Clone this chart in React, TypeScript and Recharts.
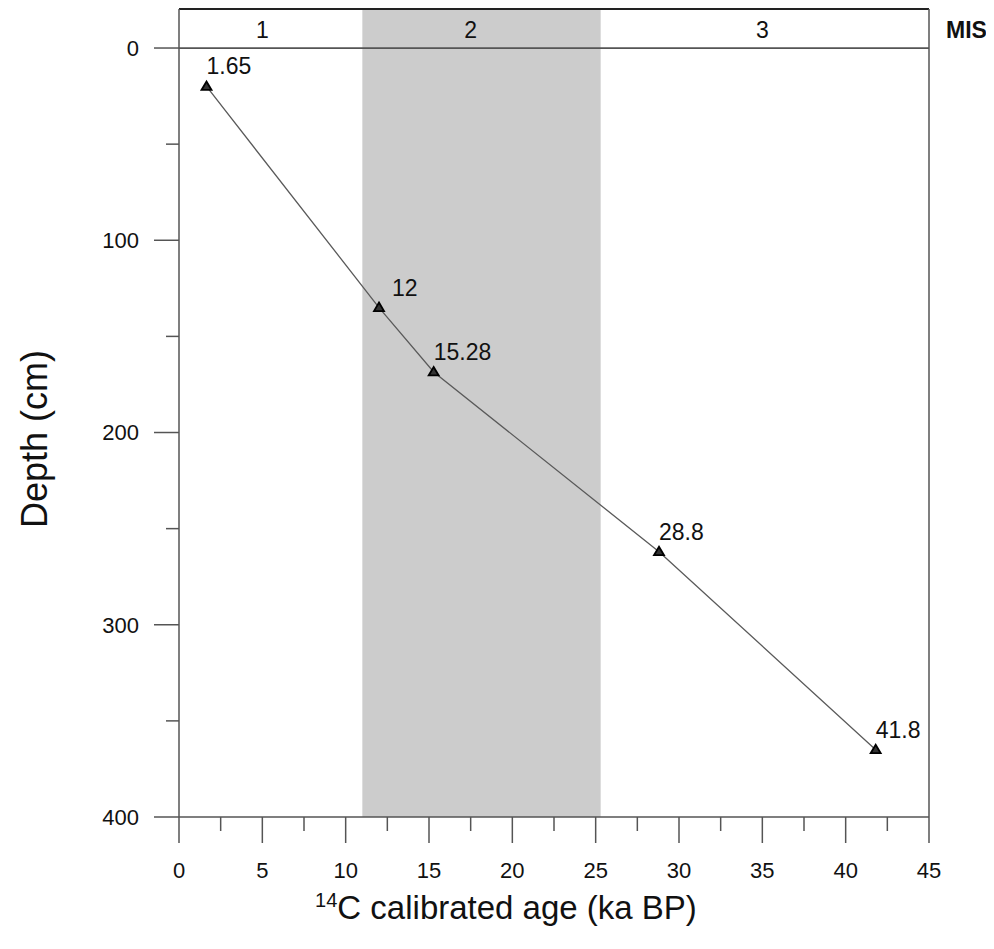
import React from "react";
import {
  LineChart,
  Line,
  XAxis,
  YAxis,
  ReferenceArea,
  ReferenceLine,
  ReferenceDot,
} from "recharts";

// radiocarbon dates (ka BP) against core depth (cm)
const ages = [1.65, 12, 15.28, 28.8, 41.8];
const depths = [20, 135, 168.5, 262, 365];
const ageLabels = ["1.65", "12", "15.28", "28.8", "41.8"];

const xTicks = [0, 2.5, 5, 7.5, 10, 12.5, 15, 17.5, 20, 22.5, 25, 27.5, 30, 32.5, 35, 37.5, 40, 42.5, 45];
const yTicks = [0, 50, 100, 150, 200, 250, 300, 350, 400];

// marine isotope stages
const misNames = ["1", "2", "3"];
const misLabelAt = [5, 17.5, 35];
const mis2Start = 11;
const mis2End = 25.3;

const data = ages.map((a, i) => ({ age: a, depth: depths[i], label: ageLabels[i] }));

const FONT = "'Liberation Sans', Arial, sans-serif";
const AXIS = "#555";
const Y_TOP = -20.3;
const MIS_Y = -9.7;

const XTick = (props: any) => {
  const { x, y, payload } = props;
  const major = payload.value % 5 === 0;
  return (
    <g>
      <line x1={x} y1={y} x2={x} y2={y + (major ? 26 : 14)} stroke={AXIS} strokeWidth={1.5} />
      {major && (
        <text x={x} y={y + 61} textAnchor="middle" fontSize={22} fontFamily={FONT} fill="#111">
          {payload.value}
        </text>
      )}
    </g>
  );
};

const YTick = (props: any) => {
  const { x, y, payload } = props;
  const major = payload.value % 100 === 0;
  return (
    <g>
      <line x1={x - (major ? 25 : 13)} y1={y} x2={x} y2={y} stroke={AXIS} strokeWidth={1.5} />
      {major && (
        <text x={x - 40} y={y} dy="0.36em" textAnchor="end" fontSize={22} fontFamily={FONT} fill="#111">
          {payload.value}
        </text>
      )}
    </g>
  );
};

const XTitle = (props: any) => {
  const vb = props.viewBox;
  const cx = vb.x + vb.width / 2 - 48;
  return (
    <text x={cx} y={vb.y + 102} textAnchor="middle" fontSize={33} fontFamily={FONT} fill="#111">
      <tspan fontSize={20} dy={-12}>14</tspan>
      <tspan dy={12}>C calibrated age (ka BP)</tspan>
    </text>
  );
};

const YTitle = (props: any) => {
  const vb = props.viewBox;
  const cx = 26;
  const cy = vb.y + vb.height / 2 + 26;
  return (
    <text
      x={cx}
      y={cy}
      transform={`rotate(-90 ${cx} ${cy})`}
      textAnchor="middle"
      dominantBaseline="central"
      fontSize={36}
      fontFamily={FONT}
      fill="#111"
    >
      Depth (cm)
    </text>
  );
};

const Marker = (props: any) => {
  const { cx, cy, index, payload } = props;
  if (cx == null || cy == null) return null;
  // the "12" label sits a little further right in the original
  const shift = index === 1 ? 13 : 0;
  return (
    <g key={"m" + index}>
      <polygon
        points={`${cx},${cy - 5} ${cx + 5},${cy + 3.5} ${cx - 5},${cy + 3.5}`}
        fill="#333"
        stroke="#000"
        strokeWidth={1.8}
        strokeLinejoin="miter"
      />
      <text x={cx + shift} y={cy - 12} fontSize={23} fontFamily={FONT} fill="#111">
        {payload.label}
      </text>
    </g>
  );
};

const StageText = (text: string, dx: number, anchor: string, bold: boolean) => (p: any) => (
  <text
    x={p.cx + dx}
    y={p.cy}
    dy="0.36em"
    textAnchor={anchor as any}
    fontSize={23}
    fontWeight={bold ? "bold" : "normal"}
    fontFamily={FONT}
    fill="#111"
  >
    {text}
  </text>
);

export default function App() {
  return (
    <div style={{ background: "#fff" }}>
      <LineChart
        width={978}
        height={935}
        data={data}
        margin={{ top: 1, right: 57, left: 0, bottom: 26 }}
      >
        <ReferenceArea
          x1={mis2Start}
          x2={mis2End}
          y1={Y_TOP}
          y2={400}
          fill="#cccccc"
          fillOpacity={1}
          stroke="none"
          ifOverflow="hidden"
        />
        <XAxis
          dataKey="age"
          type="number"
          domain={[0, 45]}
          ticks={xTicks}
          interval={0}
          allowDataOverflow
          height={100}
          tickSize={0}
          tickMargin={0}
          tickLine={false}
          tick={<XTick />}
          axisLine={{ stroke: AXIS, strokeWidth: 1.5 }}
          label={<XTitle />}
        />
        <YAxis
          dataKey="depth"
          type="number"
          reversed
          domain={[Y_TOP, 400]}
          ticks={yTicks}
          interval={0}
          allowDataOverflow
          width={171}
          tickSize={0}
          tickMargin={0}
          tickLine={false}
          tick={<YTick />}
          axisLine={{ stroke: AXIS, strokeWidth: 1.5 }}
          label={<YTitle />}
        />
        <ReferenceLine y={Y_TOP} stroke="#222" strokeWidth={2} />
        <ReferenceLine y={0} stroke={AXIS} strokeWidth={1.8} />
        <ReferenceLine x={45} stroke={AXIS} strokeWidth={1.5} />
        {misNames.map((n, i) => (
          <ReferenceDot
            key={n}
            x={misLabelAt[i]}
            y={MIS_Y}
            r={1}
            shape={StageText(n, 0, "middle", false)}
            ifOverflow="visible"
          />
        ))}
        <ReferenceDot x={45} y={MIS_Y} r={1} shape={StageText("MIS", 17, "start", true)} ifOverflow="visible" />
        <Line
          dataKey="depth"
          type="linear"
          stroke="#5a5a5a"
          strokeWidth={1.3}
          dot={<Marker />}
          activeDot={false}
          isAnimationActive={false}
        />
      </LineChart>
    </div>
  );
}
